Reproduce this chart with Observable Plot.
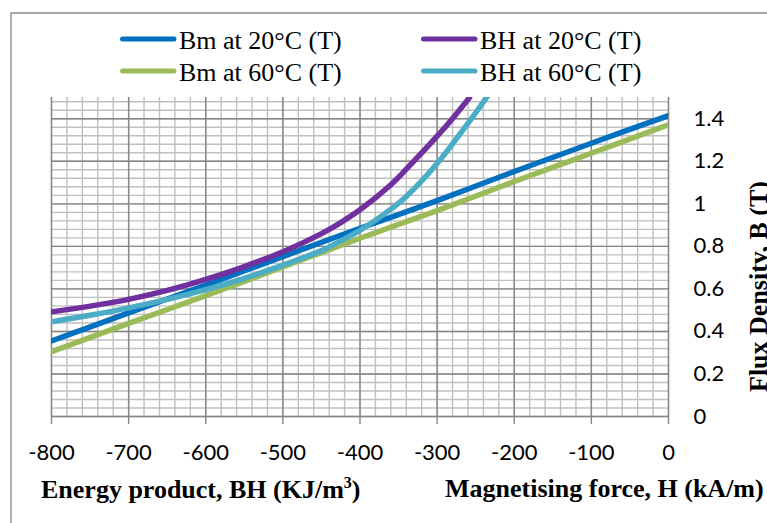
<!DOCTYPE html>
<html><head><meta charset="utf-8">
<script src="https://cdn.jsdelivr.net/npm/d3@7"></script>
<script src="https://cdn.jsdelivr.net/npm/@observablehq/plot@0.6"></script>
<style>
body{margin:0;background:#fff;}
#wrap{position:relative;width:767px;height:523px;overflow:hidden;background:#fff;}
#wrap > svg{position:absolute;left:0;top:0;}
</style></head>
<body><div id="wrap"></div>
<script>
// ---- data ----
const H_bm   = [-800, -700, -600, -500, -400, -300, -200, -100, 0];
const bm20   = [0.355, 0.487, 0.618, 0.752, 0.885, 1.015, 1.152, 1.285, 1.415];
const bm60   = [0.305, 0.438, 0.568, 0.703, 0.838, 0.968, 1.105, 1.238, 1.372];
const H_bh20 = [-800, -750, -700, -650, -600, -550, -500, -450, -425, -400, -360, -340, -300, -278, -258];
const bh20   = [0.492, 0.519, 0.551, 0.593, 0.645, 0.705, 0.775, 0.86, 0.912, 0.972, 1.09, 1.163, 1.318, 1.41, 1.5];
const H_bh60 = [-800, -750, -700, -650, -600, -550, -500, -450, -425, -400, -360, -340, -300, -270, -252, -235];
const bh60   = [0.445, 0.476, 0.511, 0.551, 0.597, 0.65, 0.712, 0.78, 0.826, 0.875, 0.975, 1.035, 1.19, 1.33, 1.418, 1.505];

const seriesNames  = ["Bm at 20°C (T)", "BH at 20°C (T)", "Bm at 60°C (T)", "BH at 60°C (T)"];
const seriesColors = ["#0070C0", "#7030A0", "#9BBB59", "#4BACC6"];

const xTicks = [-800, -700, -600, -500, -400, -300, -200, -100, 0];
const yTicks = [0, 0.2, 0.4, 0.6, 0.8, 1, 1.2, 1.4];
const xMinor = d3.range(-800, 1, 20);
const yMinor = d3.range(0, 38).map(i => +(i * 0.04).toFixed(2));

const xTitle = "Energy product, BH (KJ/m";
const xTitle2 = "Magnetising force, H (kA/m)";
const yTitle = "Flux Density, B (T)";

const pts = (hs, bs) => hs.map((h, i) => [h, bs[i]]);

const chart = Plot.plot({
  width: 767, height: 523,
  marginLeft: 51, marginRight: 99, marginTop: 97, marginBottom: 107,
  x: {domain: [-800, 0], ticks: xTicks, tickFormat: d => String(d), tickSize: 0, tickPadding: 28, label: null},
  y: {domain: [0, 1.5], axis: "right", ticks: yTicks, tickFormat: d => String(d), tickSize: 0, tickPadding: 25, label: null},
  style: {fontFamily: "Lato, 'Open Sans', sans-serif", fontSize: "22px", color: "#000", background: "transparent", overflow: "visible"},
  marks: [
    Plot.ruleX(xMinor, {stroke: "#bfbfbf", strokeWidth: 1.4}),
    Plot.ruleY(yMinor, {stroke: "#bfbfbf", strokeWidth: 1.4}),
    Plot.ruleY(yTicks, {stroke: "#868686", strokeWidth: 1.4}),
    Plot.ruleX(xTicks, {stroke: "#868686", strokeWidth: 1.4, insetBottom: -8}),
    Plot.line(pts(H_bm, bm20),   {stroke: seriesColors[0], strokeWidth: 5.5, curve: "catmull-rom", clip: true}),
    Plot.line(pts(H_bh20, bh20), {stroke: seriesColors[1], strokeWidth: 5.5, curve: "catmull-rom", clip: true}),
    Plot.line(pts(H_bm, bm60),   {stroke: seriesColors[2], strokeWidth: 5.5, curve: "catmull-rom", clip: true}),
    Plot.line(pts(H_bh60, bh60), {stroke: seriesColors[3], strokeWidth: 5.5, curve: "catmull-rom", clip: true})
  ]
});
const wrap = document.getElementById("wrap");
wrap.appendChild(chart);

// ---- overlay: frame, legend, axis titles ----
const ov = d3.select(wrap).append("svg")
  .attr("width", 767).attr("height", 523)
  .style("pointer-events", "none");
ov.append("path").attr("d", "M11,523V13H767").attr("fill", "none")
  .attr("stroke", "#898989").attr("stroke-width", 1.3);

const legendPos = [[120, 39], [421, 39], [120, 71], [421, 71]];
seriesNames.forEach((n, i) => {
  const [x, y] = legendPos[i];
  ov.append("line").attr("x1", x + 2.5).attr("x2", x + 54).attr("y1", y).attr("y2", y)
    .attr("stroke", seriesColors[i]).attr("stroke-width", 5).attr("stroke-linecap", "round");
  ov.append("text").attr("x", x + 59).attr("y", y + 9.5)
    .attr("font-family", "'Liberation Serif', 'Times New Roman', serif").attr("font-size", 26)
    .attr("fill", "#000").text(n);
});

const t1 = ov.append("text").attr("x", 41).attr("y", 498)
  .attr("font-family", "'Liberation Serif', 'Times New Roman', serif").attr("font-size", 26)
  .attr("font-weight", "bold").attr("fill", "#000");
t1.append("tspan").text(xTitle);
t1.append("tspan").attr("font-size", 16).attr("dy", -10).text("3");
t1.append("tspan").attr("dy", 10).text(")");

ov.append("text").attr("x", 445).attr("y", 497)
  .attr("font-family", "'Liberation Serif', 'Times New Roman', serif").attr("font-size", 26)
  .attr("font-weight", "bold").attr("fill", "#000").text(xTitle2);

ov.append("text").attr("transform", "translate(767,392) rotate(-90)")
  .attr("font-family", "'Liberation Serif', 'Times New Roman', serif").attr("font-size", 26)
  .attr("font-weight", "bold").attr("fill", "#000").text(yTitle);
</script>
</body></html>
